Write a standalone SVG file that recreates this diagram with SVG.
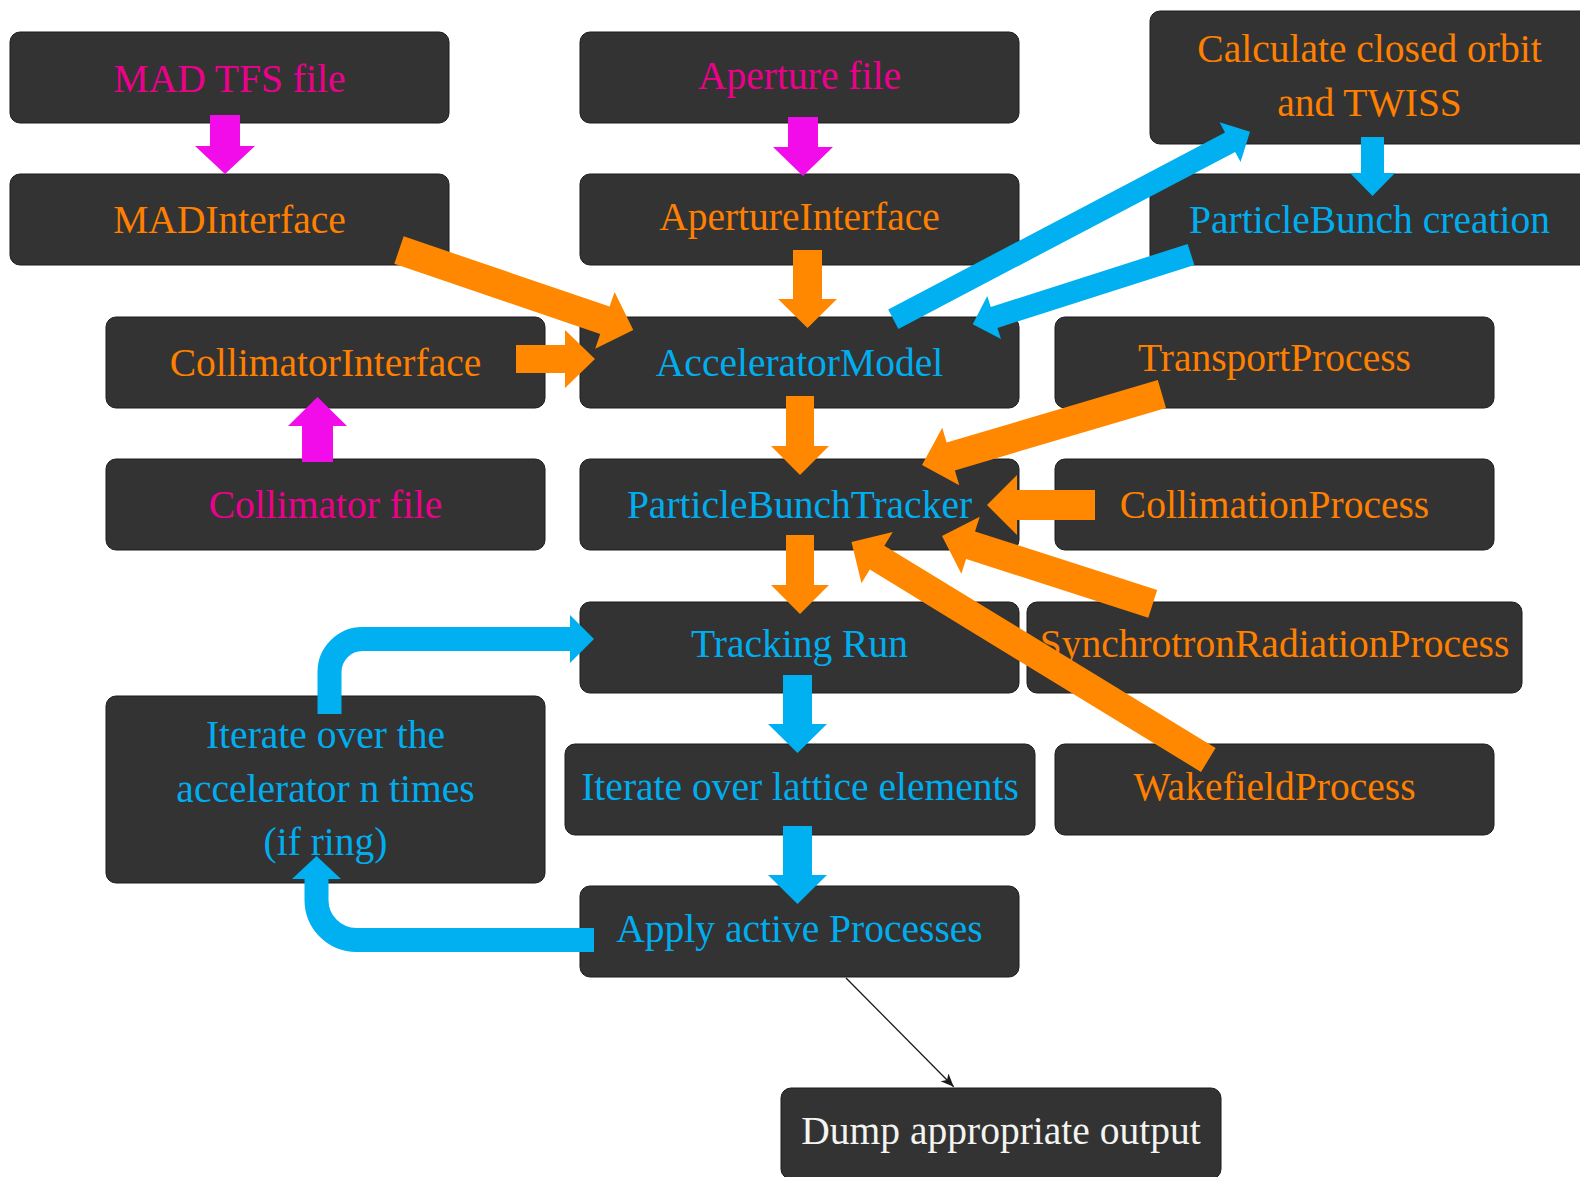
<svg xmlns="http://www.w3.org/2000/svg" width="1580" height="1177" viewBox="0 0 1580 1177">
<defs>
<style>
.box{fill:#333333;stroke:#1c1c1c;stroke-width:1}
.t{font-family:"Liberation Serif","Times New Roman",serif;font-size:39.5px;text-anchor:middle}
.o{fill:#FF8000}.b{fill:#00AEEF}.m{fill:#EC008C}.w{fill:#F4F4F0}
.ao{fill:#FF8800}.ab{fill:#00B0F0}.am{fill:#F20CEA}
.sb{fill:none;stroke:#00B0F0;stroke-width:24}
</style>
<marker id="tip" markerUnits="userSpaceOnUse" markerWidth="14" markerHeight="14" viewBox="0 0 14 14" refX="13" refY="7" orient="auto">
<path d="M0,1.5 L13,7 L0,12.5 L3.5,7 z" fill="#1a1a1a"/>
</marker>
</defs>
<rect width="1580" height="1177" fill="#ffffff"/>

<g id="mad_tfs_file"><rect class="box" x="10" y="32" width="439" height="91" rx="10"/><text class="t m" x="229.5" y="91.5">MAD TFS file</text></g>
<g id="aperture_file"><rect class="box" x="580" y="32" width="439" height="91" rx="10"/><text class="t m" x="799.5" y="89">Aperture file</text></g>
<g id="calculate_closed_orbit"><rect class="box" x="1150" y="11" width="440" height="133" rx="10"/><text class="t o" x="1369.5" y="62">Calculate closed orbit</text><text class="t o" x="1369.5" y="116">and TWISS</text></g>
<g id="mad_interface"><rect class="box" x="10" y="174" width="439" height="91" rx="10"/><text class="t o" x="229.5" y="233">MADInterface</text></g>
<g id="aperture_interface"><rect class="box" x="580" y="174" width="439" height="91" rx="10"/><text class="t o" x="799.5" y="230">ApertureInterface</text></g>
<g id="particlebunch_creation"><rect class="box" x="1150" y="174" width="440" height="91" rx="10"/><text class="t b" x="1369.5" y="233">ParticleBunch creation</text></g>
<g id="collimator_interface"><rect class="box" x="106" y="317" width="439" height="91" rx="10"/><text class="t o" x="325.5" y="376">CollimatorInterface</text></g>
<g id="accelerator_model"><rect class="box" x="580" y="317" width="439" height="91" rx="10"/><text class="t b" x="799.5" y="376">AcceleratorModel</text></g>
<g id="transport_process"><rect class="box" x="1055" y="317" width="439" height="91" rx="10"/><text class="t o" x="1274.5" y="371">TransportProcess</text></g>
<g id="collimator_file"><rect class="box" x="106" y="459" width="439" height="91" rx="10"/><text class="t m" x="325.5" y="518">Collimator file</text></g>
<g id="particlebunch_tracker"><rect class="box" x="580" y="459" width="439" height="91" rx="10"/><text class="t b" x="799.5" y="518">ParticleBunchTracker</text></g>
<g id="collimation_process"><rect class="box" x="1055" y="459" width="439" height="91" rx="10"/><text class="t o" x="1274.5" y="518">CollimationProcess</text></g>
<g id="tracking_run"><rect class="box" x="580" y="602" width="439" height="91" rx="10"/><text class="t b" x="799.5" y="657">Tracking Run</text></g>
<g id="synchrotron_radiation_process"><rect class="box" x="1027" y="602" width="495" height="91" rx="10"/><text class="t o" x="1274.5" y="657">SynchrotronRadiationProcess</text></g>
<g id="iterate_accelerator"><rect class="box" x="106" y="696" width="439" height="187" rx="10"/><text class="t b" x="325.5" y="748">Iterate over the</text><text class="t b" x="325.5" y="802">accelerator n times</text><text class="t b" x="325.5" y="855">(if ring)</text></g>
<g id="iterate_lattice"><rect class="box" x="565" y="744" width="470" height="91" rx="10"/><text class="t b" x="800" y="800">Iterate over lattice elements</text></g>
<g id="wakefield_process"><rect class="box" x="1055" y="744" width="439" height="91" rx="10"/><text class="t o" x="1274.5" y="800">WakefieldProcess</text></g>
<g id="apply_processes"><rect class="box" x="580" y="886" width="439" height="91" rx="10"/><text class="t b" x="799.5" y="942">Apply active Processes</text></g>
<g id="dump_output"><rect class="box" x="781" y="1088" width="440" height="91" rx="10"/><text class="t w" x="1001" y="1144">Dump appropriate output</text></g>

<g id="connectors">
<polygon class="am" points="210,115 240,115 240,146 255,146 225,174 195,146 210,146"/>
<polygon class="am" points="788,117 818,117 818,147 833,147 803,176 773,147 788,147"/>
<polygon class="ao" points="793,250 822,250 822,299 837,299 807.5,328 778,299 793,299"/>
<polygon class="ao" points="403.7,236.3 609.6,306.6 614.6,291.9 633.3,330 595.2,348.7 600.2,334 394.3,263.7"/>
<polygon class="ao" points="516,345 565,345 565,330 595,359 565,388 565,373 516,373"/>
<polygon class="am" points="302,462 302,426 288,426 317.5,397 347,426 333,426 333,462"/>
<polygon class="ao" points="786,396 814,396 814,446 829,446 800,475 771,446 786,446"/>
<polygon class="ao" points="786,535 814,535 814,585 829,585 800,614 771,585 786,585"/>
<polygon class="ab" points="783,675 812,675 812,724 827,724 797.5,753 768,724 783,724"/>
<polygon class="ab" points="783,826 812,826 812,875 827,875 797.5,904 768,875 783,875"/>
<polygon class="ab" points="1361,137 1384,137 1384,173 1395,173 1372.5,196 1350,173 1361,173"/>
<polygon class="ab" points="888.2,309.6 1225,132.5 1219.6,122.3 1250,131.7 1240.6,162.1 1235.2,151.9 898.4,329"/>
<polygon class="ab" points="1187.65,244 990.75,306.97 987.25,296 972.7,324.3 1000.95,338.9 997.45,327.93 1194.35,265"/>
<polygon class="ao" points="1157.8,380.1 946.64,442.59 942.25,427.7 922,465 959.27,485.25 954.88,470.39 1166,407.9"/>
<polygon class="ao" points="1095,490 1017,490 1017,475 987,505 1017,535 1017,520 1095,520"/>
<polygon class="ao" points="1157.19,590.05 975,531.39 979.76,516.63 942,536 961.36,573.75 966.12,558.99 1148.31,617.65"/>
<polygon class="ao" points="1215.6,748.05 884.4,545.69 892.74,532.04 851.5,542 861.46,583.24 869.8,569.59 1201,771.95"/>
<path class="sb" d="M329.5,714 V672 A33,33 0 0 1 362.5,639 H571"/>
<polygon class="ab" points="570,615 594,639 570,663"/>
<path class="sb" d="M594,940 H356.5 A40,40 0 0 1 316.5,900 V878"/>
<polygon class="ab" points="292,879 316.5,856 341,879"/>
<line x1="846" y1="978" x2="953.7" y2="1086.7" stroke="#1a1a1a" stroke-width="1.3" marker-end="url(#tip)"/>
</g>
</svg>
